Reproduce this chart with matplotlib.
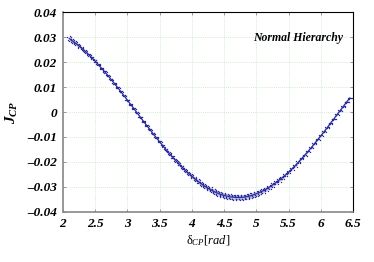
import numpy as np
import matplotlib
matplotlib.use("Agg")
import matplotlib.pyplot as plt

# delta_CP values (rad) and J_CP centre of the scatter band
delta = [2.10, 2.15, 2.20, 2.25, 2.30, 2.35, 2.40, 2.45, 2.50, 2.55, 2.60, 2.65,
         2.70, 2.75, 2.80, 2.85, 2.90, 2.95, 3.00, 3.05, 3.10, 3.15, 3.20, 3.25,
         3.30, 3.35, 3.40, 3.45, 3.50, 3.55, 3.60, 3.65, 3.70, 3.75, 3.80, 3.85,
         3.90, 3.95, 4.00, 4.05, 4.10, 4.15, 4.20, 4.25, 4.30, 4.35, 4.40, 4.45,
         4.50, 4.55, 4.60, 4.65, 4.70, 4.75, 4.80, 4.85, 4.90, 4.95, 5.00, 5.05,
         5.10, 5.15, 5.20, 5.25, 5.30, 5.35, 5.40, 5.45, 5.50, 5.55, 5.60, 5.65,
         5.70, 5.75, 5.80, 5.85, 5.90, 5.95, 6.00, 6.05, 6.10, 6.15, 6.20, 6.25,
         6.30, 6.35, 6.40, 6.45]
jcp = [0.0294, 0.0284, 0.0275, 0.0265, 0.0254, 0.0242, 0.0230, 0.0217, 0.0204,
       0.0190, 0.0175, 0.0161, 0.0145, 0.0130, 0.0114, 0.0098, 0.0081, 0.0065,
       0.0048, 0.0031, 0.0014, -0.0003, -0.0020, -0.0037, -0.0054, -0.0070,
       -0.0087, -0.0103, -0.0119, -0.0135, -0.0151, -0.0166, -0.0180, -0.0194,
       -0.0208, -0.0221, -0.0234, -0.0246, -0.0257, -0.0268, -0.0278, -0.0288,
       -0.0297, -0.0305, -0.0312, -0.0319, -0.0325, -0.0330, -0.0334, -0.0337,
       -0.0340, -0.0341, -0.0342, -0.0342, -0.0341, -0.0339, -0.0336, -0.0332,
       -0.0327, -0.0322, -0.0316, -0.0309, -0.0301, -0.0292, -0.0283, -0.0273,
       -0.0263, -0.0252, -0.0240, -0.0228, -0.0215, -0.0201, -0.0187, -0.0173,
       -0.0158, -0.0143, -0.0127, -0.0111, -0.0095, -0.0079, -0.0062, -0.0045,
       -0.0028, -0.0011, 0.0006, 0.0023, 0.0040, 0.0056]
# half width of the scatter band at each point
spread = [0.0009, 0.0009, 0.0008, 0.0007, 0.0006, 0.0005, 0.0004, 0.0004, 0.0004,
          0.0003, 0.0003, 0.0003, 0.0002, 0.0002, 0.0002, 0.0002, 0.0002, 0.0002,
          0.0002, 0.0002, 0.0002, 0.0002, 0.0002, 0.0002, 0.0002, 0.0002, 0.0003,
          0.0003, 0.0003, 0.0004, 0.0004, 0.0005, 0.0005, 0.0005, 0.0006, 0.0006,
          0.0007, 0.0007, 0.0008, 0.0008, 0.0008, 0.0009, 0.0009, 0.0009, 0.0010,
          0.0010, 0.0010, 0.0010, 0.0010, 0.0010, 0.0010, 0.0010, 0.0010, 0.0010,
          0.0010, 0.0010, 0.0010, 0.0010, 0.0009, 0.0009, 0.0009, 0.0008, 0.0008,
          0.0008, 0.0007, 0.0007, 0.0006, 0.0006, 0.0005, 0.0005, 0.0004, 0.0004,
          0.0003, 0.0003, 0.0003, 0.0002, 0.0002, 0.0002, 0.0002, 0.0002, 0.0002,
          0.0002, 0.0002, 0.0002, 0.0002, 0.0002, 0.0002, 0.0002]

xticks = [2, 2.5, 3, 3.5, 4, 4.5, 5, 5.5, 6, 6.5]
yticks = [-0.04, -0.03, -0.02, -0.01, 0, 0.01, 0.02, 0.03, 0.04]

plt.rcParams['font.family'] = ['Liberation Serif', 'DejaVu Serif']
plt.rcParams['mathtext.fontset'] = 'custom'
plt.rcParams['mathtext.rm'] = 'Liberation Serif'
plt.rcParams['mathtext.it'] = 'Liberation Serif:italic'
plt.rcParams['mathtext.bf'] = 'Liberation Serif:bold:italic'

x = np.array(delta)
y = np.array(jcp)
w = np.array(spread)

fig = plt.figure(figsize=(3.74, 2.62), dpi=100)
ax = fig.add_axes([0.168, 0.191, 0.776, 0.763])

col = '#2a2a9a'
ax.fill_between(x, y - w, y + w, color='#9a9ad0', lw=0, alpha=0.6, zorder=2)
ax.plot(x, y, color=col, lw=0.9, zorder=3)
for dx, f in [(0.008, 1.0), (-0.008, -1.0), (0.02, 0.55), (-0.02, -0.55),
              (0.03, -0.8), (-0.03, 0.8)]:
    ax.scatter(x + dx, y + f * w, s=1.0, color=col, linewidths=0, zorder=3)

ax.set_xlim(2, 6.5)
ax.set_ylim(-0.04, 0.04)
ax.set_xticks(xticks)
ax.set_yticks(yticks)
ax.set_xticklabels([('%g' % t) for t in xticks], fontsize=9.5, fontweight='bold', fontstyle='italic')
ax.set_yticklabels([('%g' % t).replace('-', '\u2013') for t in yticks], fontsize=9.5,
                   fontweight='bold', fontstyle='italic')
ax.grid(True, color='#c4e6c4', linestyle=(0, (1, 1.5)), linewidth=0.6)
ax.tick_params(direction='in', length=2.5, width=0.6, color='#888888',
               top=True, right=True, pad=4)

for s in ['left', 'bottom']:
    ax.spines[s].set_color('#888888')
    ax.spines[s].set_linewidth(1.2)
for s in ['top', 'right']:
    ax.spines[s].set_color('black')
    ax.spines[s].set_linewidth(0.8)

ax.set_ylabel(r'$\mathbf{J}_{\mathbf{CP}}$', fontsize=11, labelpad=5)
ax.set_xlabel(r'$\mathrm{\delta}_{CP}\mathit{[rad]}$', fontsize=9, labelpad=3)
ax.text(0.966, 0.87, 'Normal Hierarchy', transform=ax.transAxes, ha='right', va='center',
        fontsize=8.5, fontweight='bold', fontstyle='italic')

fig.savefig('out.png', dpi=100)
